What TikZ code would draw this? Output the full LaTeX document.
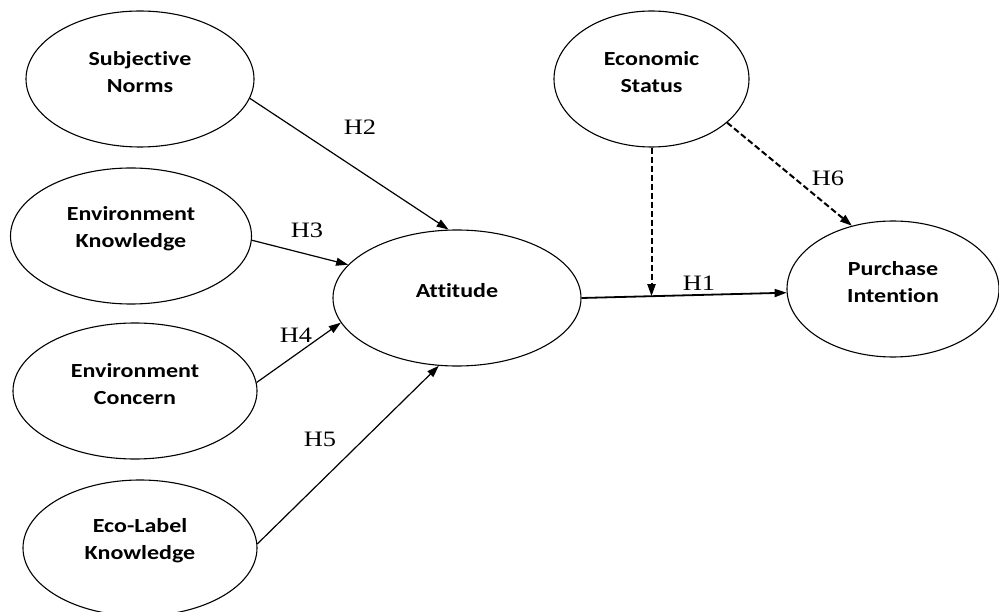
\documentclass[tikz,border=0pt]{standalone}
\usepackage{fontspec}
\setmainfont{Liberation Serif}[FakeStretch=1.2]
\setsansfont{Carlito}[FakeStretch=1.2,Ligatures=NoCommon]
\usepackage{tikz}
\usetikzlibrary{shapes,arrows.meta}

\begin{document}
\begin{tikzpicture}[x=1pt,y=-1pt,
	latent/.style={draw, ellipse, line width=1.1pt, minimum height=136pt, inner sep=0pt},
	nodetext/.style={font=\sffamily\bfseries\fontsize{20}{27}\selectfont, align=center, yshift=7pt},
	hyp/.style={font=\fontsize{22}{26}\selectfont, inner sep=0pt},
	link/.style={line width=1.2pt, -{Triangle[length=12pt,width=8pt]}},
	modlink/.style={line width=2pt, dash pattern=on 6pt off 3pt, -{Triangle[length=12pt,width=8pt]}}]
\useasboundingbox (0,0) rectangle (999,612);
\node[latent, minimum width=228pt, label={[nodetext]center:{Subjective\\Norms}}] (sn) at (140,79) {};
\node[latent, minimum width=241pt, label={[nodetext]center:{Environment\\Knowledge}}] (ek) at (131,236) {};
\node[latent, minimum width=244pt, label={[nodetext]center:{Environment\\Concern}}] (ec) at (135,391) {};
\node[latent, minimum width=234pt, label={[nodetext]center:{Eco-Label\\Knowledge}}] (el) at (140,548) {};
\node[latent, minimum width=248pt, label={[nodetext]center:{Attitude}}] (att) at (457,298) {};
\node[latent, minimum width=195pt, label={[nodetext]center:{Economic\\Status}}] (es) at (651.5,79) {};
\node[latent, minimum width=212pt, label={[nodetext]center:{Purchase\\Intention}}] (pi) at (893,289) {};

\draw[link] (sn.-10) -- (att.97);
\draw[link] (ek.-2) -- (att.163);
\draw[link] (ec.4) -- (att.192);
\draw[link] (el.2) -- (att.-105);
\draw[link, line width=1.8pt] (att.0) -- coordinate[pos=0.345] (mod) (pi.182);
\draw[modlink] (es.south) -- (es.south |- mod);
\draw[modlink] (es.-30) -- (pi.123);

\node[hyp] (h1) at (699,283) {H1};
\node[hyp] (h2) at (360,127) {H2};
\node[hyp] (h3) at (307,230) {H3};
\node[hyp] (h4) at (296,335) {H4};
\node[hyp] (h5) at (320,439) {H5};
\node[hyp] (h6) at (828,178) {H6};
\end{tikzpicture}
\end{document}
